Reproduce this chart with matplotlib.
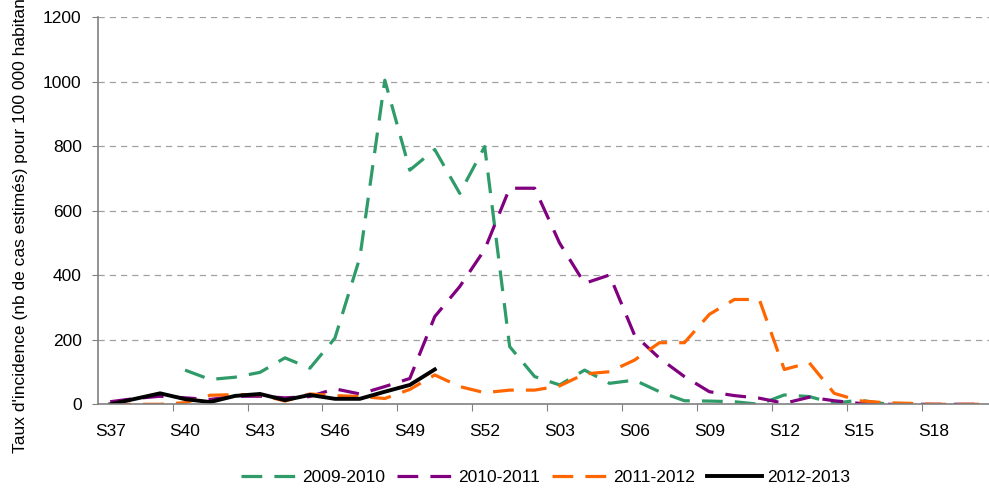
import numpy as np
import matplotlib
matplotlib.use("Agg")
import matplotlib.pyplot as plt

plt.rcParams['font.family'] = ['Liberation Sans', 'DejaVu Sans']

# Semaines S37 -> S20
semaines = ["S%02d" % s for s in list(range(37, 53)) + list(range(1, 21))]

nan = np.nan
s2009 = [nan, nan, nan, 106, 77, 84, 99, 144, 112, 205, 455, 1005,
         726, 790, 654, 799, 179, 86, 60, 106, 65, 75, 39, 11,
         10, 8, 0, 29, 24, 3, 13, 2, nan, nan, nan, nan]
s2010 = [8, 18, 25, 20, 15, 25, 25, 20, 24, 48, 32, 55,
         80, 272, 365, 480, 670, 670, 500, 375, 401, 215, 143, 86,
         39, 27, 19, 3, 22, 11, 3, 0, 0, 0, 0, 0]
s2011 = [0, 0, 0, 5, 28, 30, 30, 10, 32, 27, 24, 18,
         46, 91, 55, 36, 44, 44, 57, 94, 101, 137, 191, 191,
         279, 325, 325, 108, 129, 34, 11, 5, 3, 0, 0, 0]
s2012 = [0, 17, 34, 16, 7, 26, 32, 13, 29, 17, 17, 39,
         60, 108]

fs = 12.5
fig = plt.figure(figsize=(9.89, 4.9), dpi=100)
ax = fig.add_axes([0.0988, 0.1749, 0.9012, 0.7898])

x = np.arange(len(semaines))
ld = (0, (6.5, 3.8))
ax.plot(x, s2009, color='#2e9b69', lw=2.3, linestyle=ld, label='2009-2010')
ax.plot(x, s2010, color='#800080', lw=2.3, linestyle=ld, label='2010-2011')
ax.plot(x, s2011, color='#ff6600', lw=2.3, linestyle=ld, label='2011-2012')
ax.plot(x[:len(s2012)], s2012, color='black', lw=2.8, label='2012-2013')

ax.set_ylim(0, 1200)
ax.set_xlim(-0.5, 35.2)
ax.set_yticks(range(0, 1201, 200))
ax.yaxis.grid(True, color='#a0a0a0', linestyle=(0, (5, 4)), lw=0.9)
ax.set_axisbelow(True)

# ticks entre les catégories, étiquettes toutes les 3 semaines
ax.set_xticks(np.arange(2.5, 35, 3))
ax.set_xticklabels([])
ax.set_xticks(np.arange(0, 34, 3), minor=True)
ax.set_xticklabels(semaines[0:34:3], minor=True)
ax.tick_params(axis='x', which='minor', length=0, pad=14, labelsize=fs)
ax.tick_params(axis='x', which='major', length=5, color='#808080', direction='out')
ax.tick_params(axis='y', length=4, color='#808080', labelsize=fs, pad=7.5)

for side in ['top', 'right']:
    ax.spines[side].set_visible(False)
for side in ['left', 'bottom']:
    ax.spines[side].set_color('#808080')
    ax.spines[side].set_linewidth(1.2)

fig.text(0.021, 1 - 453 / 490, "Taux d'incidence (nb de cas estimés) pour 100 000 habitants",
         rotation=90, va='bottom', ha='center', fontsize=fs)

fig.legend(loc='center', bbox_to_anchor=(0.552, 0.025), ncol=4, frameon=False,
           handlelength=3.2, columnspacing=0.7, handletextpad=0.3, fontsize=fs)

fig.savefig("out.png", dpi=100)
